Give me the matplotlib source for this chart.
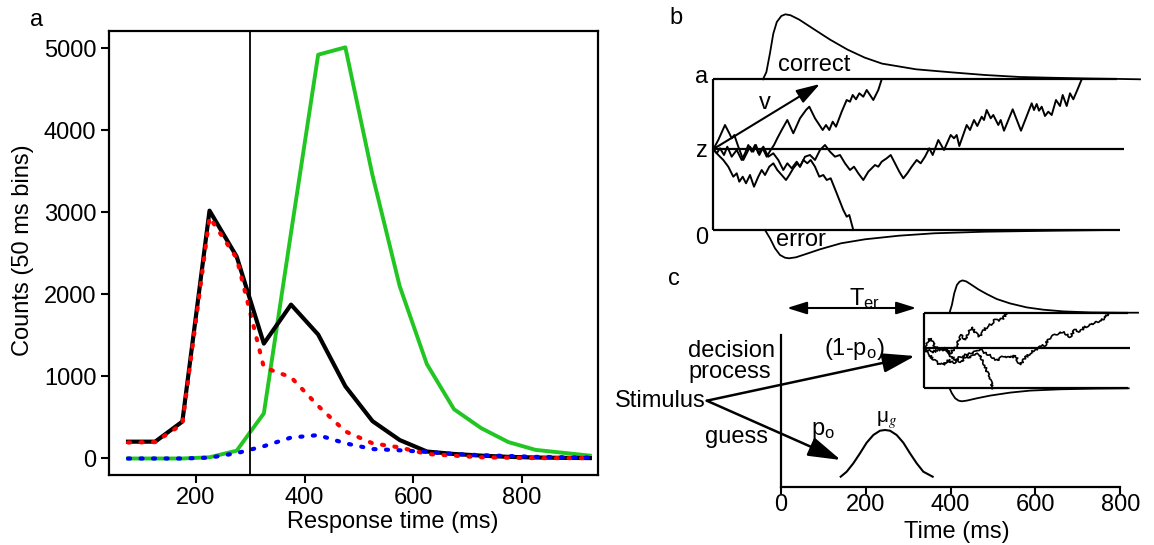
import matplotlib
matplotlib.use("Agg")
import matplotlib.pyplot as plt

plt.rcParams['font.family'] = ['Liberation Sans', 'DejaVu Sans']
plt.rcParams['font.size'] = 17
plt.rcParams['mathtext.default'] = 'regular'

W, H = 1154, 545

# ---- panel a: response time histograms (50 ms bins) ----
bin_ms = [75, 125, 175, 225, 275, 325, 375, 425, 475, 525, 575, 625, 675, 725, 775, 825, 875, 925]
total_counts = [205, 205, 450, 3020, 2460, 1400, 1875, 1510, 880, 455, 225, 85, 55, 35, 20, 12, 8, 5]
guess_counts = [195, 200, 420, 2940, 2440, 1110, 990, 640, 330, 185, 135, 55, 35, 15, 10, 5, 5, 5]
diffusion_counts = [0, 0, 0, 10, 65, 150, 255, 285, 185, 115, 100, 80, 55, 40, 30, 20, 15, 10]
control_counts = [0, 0, 0, 15, 95, 550, 2750, 4920, 5010, 3450, 2100, 1150, 600, 370, 200, 105, 70, 35]
deadline_ms = 300

# ---- panel b: diffusion model schematic ----
bound_a = 150.7
start_z = 80.7
correct_t = [50, 53.4, 56.9, 60.3, 63.8, 68.3, 72.4, 77.6, 86.2, 100, 117, 134.5, 151.7, 169,
             203, 238, 272, 307, 341, 376, 410, 427]
correct_h = [0, 7.3, 25.7, 45.7, 57.3, 63.3, 65, 64, 59.7, 50.7, 39.7, 29.7, 21.7, 15.7,
             10, 7, 4.3, 2.3, 1.5, 0.8, 0.3, 0]
error_t = [52, 57, 62, 67, 72, 76, 83, 93, 107, 128, 152, 186, 221, 272, 341, 400]
error_h = [0, 8.3, 18.3, 25, 27.7, 28.3, 27.3, 24, 19.3, 13.3, 9.3, 5.7, 3.3, 1.7, 0.7, 0]

walk1_t = [0.3, 5.3, 12, 16.3, 18.7, 21.3, 25.3, 30.3, 33.7, 37, 40.3, 43, 46.3, 49.7, 53.7, 57.7,
           61, 64.3, 68.7, 74.3, 80.3, 87, 93, 96.3, 102, 105.3, 109.7, 113, 116.3, 119.7, 123,
           128.7, 133.7, 137, 139.7, 143, 146.3, 150.3, 153.7, 157, 160.3, 165.3, 168.7]
walk1_x = [80.7, 90, 105, 96.7, 91.7, 95, 83.3, 70, 76.7, 83.3, 78.3, 85, 75, 81.7, 73.3, 80,
           85, 91.7, 100, 110, 96.7, 111.7, 120, 123.3, 111.7, 106.7, 100, 105, 100, 108.3, 103.3,
           118.3, 130, 128.3, 135, 130.7, 136.7, 133.3, 140, 135, 130, 140, 150.7]
walk2_t = [0.3, 5.3, 10.3, 15.3, 20.3, 23.7, 26.3, 29.7, 33, 37, 41, 45.3, 48.7, 52, 56.3, 60.3,
           64.3, 68.7, 73, 76.3, 80.3, 84.3, 87, 90.3, 94.3, 97.7, 102, 106.3, 110.3, 113.7,
           117.7, 123.7, 130.3, 133.7, 136.3, 140.3]
walk2_x = [80.7, 75, 70, 63.3, 53.3, 56.7, 48.3, 53.3, 46.7, 55, 43.3, 53.3, 60, 55, 63.3, 66.7,
           60, 55, 50, 55, 61.7, 66.7, 63.3, 70, 66.7, 70, 63.3, 53.3, 55, 50,
           51.7, 36.7, 20, 13.3, 15, 0]
walk3_t = [0.3, 3.7, 7, 11, 14.3, 18.7, 23.7, 28.7, 32, 35.3, 38.7, 42, 45.3, 50.3, 55.3, 60.3,
           65.3, 70.3, 74.3, 78.7, 83.7, 87, 92, 97, 102, 107, 112, 117, 122, 127, 132, 137,
           141, 145.3, 150.3, 155.3, 158.7, 162, 165.3, 168.7, 173.7, 177.7, 182, 186.3, 190.3,
           194.3, 198.7, 203.7, 207.7, 212, 216.3, 219.7, 225.3, 231, 237.7, 241, 243.7, 246.3,
           253.7, 257, 261, 264.3, 268.7, 271, 273.7, 277.7, 280.3, 285.3, 287.7, 291, 299.7,
           308, 318.7, 321, 323.7, 326, 328.7, 332, 335.3, 338.7, 343, 347, 349.7, 353.7, 357,
           360.3, 364.3, 368.7]
walk3_x = [80.7, 76.7, 81.7, 75, 83.3, 73.3, 80, 70, 76.7, 85, 78.3, 85, 76.7, 83.3, 73.3, 76.7,
           70, 60, 66.7, 61.7, 68.3, 63.3, 73.3, 75, 70, 80, 85, 78.3, 73.3, 75, 66.7, 60,
           63.3, 56.7, 50, 58.3, 61.7, 65, 63.3, 68.3, 71.7, 75, 66.7, 58.3, 51.7,
           56.7, 63.3, 70, 66.7, 73.3, 81.7, 75, 90, 80, 95, 91.7, 95, 84,
           105, 100, 110, 104, 113.3, 110, 120, 111.7, 115, 105, 110, 99.3, 120.7,
           99.3, 126.7, 120, 126, 119.3, 123.3, 114, 118.3, 115, 130, 124, 135, 124, 136.7,
           130.7, 140, 150.7]
drift_tip = (107, 146)

# ---- panel c: mixture of guesses and diffusion ----
ter_ms = (14, 319)
box_left_ms = 337
c_top, c_mid, c_bot = 174.3, 139, 98.7
c_correct_t = [397.5, 403, 408.5, 414.8, 421, 428, 436.8, 450, 465.6, 485, 508.7, 540, 579.5,
               618.7, 666, 729, 807.5, 842]
c_correct_h = [0, 7.7, 19.3, 27.7, 31, 32.3, 31.3, 27.7, 23.3, 18.7, 13.7, 9.3, 5.3, 3, 1.3, 0.3, 0, 0]
c_error_t = [397.5, 403, 410.8, 418.7, 426.5, 438.3, 461.9, 493.3, 540.5, 587.7, 658.5, 745, 820]
c_error_h = [0, 5, 10, 12.3, 13, 12.3, 10, 7.3, 4.3, 2.3, 1, 0.3, 0]
cwalk1_t = [337.2, 351.4, 363.2, 375, 386.7, 398.5, 410.3, 418.2, 426, 433.9, 441.8, 449.6, 457.5,
            465.3, 473.2, 481, 492.8, 504.6, 516.4, 524.3, 532.1]
cwalk1_x = [139, 148.7, 140.3, 137, 138.7, 133.7, 138.7, 145.3, 152, 147, 155.3, 160.3, 155.3,
            150.3, 152, 158.7, 162, 167, 167, 168.7, 174.3]
cwalk2_t = [337.2, 347.4, 359.2, 371, 382.8, 394.6, 406.4, 422.1, 433.9, 445.7, 457.5, 469.3,
            477.1, 485, 492.8, 500.7]
cwalk2_x = [139, 133.7, 127, 123.7, 122, 127, 123.7, 130.3, 132, 128.7, 133.7, 132,
            125.3, 117, 107, 98.7]
cwalk3_t = [337.2, 347.4, 359.2, 375, 390.7, 402.5, 414.2, 426, 437.8, 449.6, 461.4, 469.3, 477.1,
            492.8, 508.6, 524.3, 540, 551.8, 563.6, 575.4, 587.2, 599, 610.7, 622.5, 634.3,
            646.1, 657.9, 669.7, 681.5, 693.3, 705.1, 716.9, 728.6, 740.4, 752.2, 764, 771.9]
cwalk3_x = [139, 137, 135.3, 137.7, 137, 129.7, 127, 125.3, 132, 133.7, 135.3, 138.7, 135.3,
            132, 127, 130.3, 128.7, 132, 122, 128.7, 133.7, 137, 140.3, 142, 148.7,
            152, 155.3, 153.7, 150.3, 157, 155.3, 160.3, 162, 163.7, 167, 168.7, 174.3]
guess_t = [140.8, 154.9, 170.6, 186.3, 202, 217.8, 233.5, 245.3, 257.1, 272.8, 288.5, 304.2,
           320, 335.7, 357.7]
guess_h = [10.3, 15.3, 23.7, 33.7, 44.3, 52, 56.3, 57, 56.3, 52, 44.3, 33.7, 23.7, 15.3, 10.3]
time_ticks = [0, 200, 400, 600, 800]

fig = plt.figure(figsize=(W / 100, H / 100), dpi=100)


def fx(x):
    return x / W


def fy(y):
    return 1 - y / H


# panel a
ax = fig.add_axes([fx(109), fy(474.5), 489 / W, 444 / H])
dots = (0, (0.5, 2.5))
ax.plot(bin_ms, control_counts, color='#22c622', lw=2.8)
ax.plot(bin_ms, total_counts, color='black', lw=3)
ax.plot(bin_ms, guess_counts, color='red', lw=3, linestyle=dots, dash_capstyle='round')
ax.plot(bin_ms, diffusion_counts, color='blue', lw=3, linestyle=dots, dash_capstyle='round')
ax.axvline(deadline_ms, color='black', lw=1.3)
ax.set_xlim(40, 940)
ax.set_ylim(-195, 5215)
ax.set_xticks([200, 400, 600, 800])
ax.set_yticks([0, 1000, 2000, 3000, 4000, 5000])
ax.tick_params(length=6, width=1.5, pad=3, labelsize=17)
for s in ax.spines.values():
    s.set_linewidth(1.6)
fig.text(fx(393), fy(522), 'Response time (ms)', ha='center', va='center')
fig.text(fx(23), fy(250), 'Counts (50 ms bins)', ha='center', va='center', rotation=90)
fig.text(fx(37), fy(20), 'a', ha='center', va='center')

# panel b
axb = fig.add_axes([fx(660), fy(265), 494 / W, 265 / H])
axb.set_xlim(-53, 441)
axb.set_ylim(-35, 230)
axb.axis('off')
k = dict(color='black', lw=1.6, solid_capstyle='butt')
axb.plot([0, 0], [0, bound_a], **k)
axb.plot([0, 404], [bound_a, bound_a], **k)
axb.plot([0, 411], [start_z, start_z], **k)
axb.plot([0, 407], [0, 0], **k)
axb.plot(correct_t, [bound_a + h for h in correct_h], color='black', lw=1.3)
axb.plot(error_t, [-h for h in error_h], color='black', lw=1.3)
for t, x in [(walk1_t, walk1_x), (walk2_t, walk2_x), (walk3_t, walk3_x)]:
    axb.plot(t, x, color='black', lw=1.4)
axb.annotate('', xy=drift_tip, xytext=(0, start_z),
             arrowprops=dict(arrowstyle='-|>,head_length=0.9,head_width=0.28', mutation_scale=16,
                             lw=1.5, color='black', shrinkA=0, shrinkB=0))
axb.text(-5, bound_a + 2, 'a', ha='right', va='center')
axb.text(-5, start_z - 2, 'z', ha='right', va='center')
axb.text(-5, -8, '0', ha='right', va='center')
axb.text(65, 165, 'correct', ha='left', va='center')
axb.text(63, -10, 'error', ha='left', va='center')
axb.text(52, 127, 'v', ha='center', va='center')
axb.text(-37, 212, 'b', ha='center', va='center')

# panel c
axc = fig.add_axes([fx(600), 0, 554 / W, 285 / H])
axc.set_xlim(-426.9, 879.7)
axc.set_ylim(-58, 227)
for name in ['top', 'right']:
    axc.spines[name].set_visible(False)
axc.spines['bottom'].set_position(('data', 0))
axc.spines['bottom'].set_bounds(0, 800)
axc.spines['left'].set_position(('data', 0))
axc.spines['left'].set_bounds(0, 152)
for name in ['bottom', 'left']:
    axc.spines[name].set_linewidth(1.6)
axc.set_xticks(time_ticks)
axc.set_yticks([])
axc.tick_params(axis='x', length=5, width=1.5, pad=0, labelsize=17)
axc.patch.set_visible(False)
axc.text(415, -45, 'Time (ms)', ha='center', va='center')

axc.plot([box_left_ms, box_left_ms], [c_bot, c_top], **k)
axc.plot([box_left_ms, 818], [c_top, c_top], **k)
axc.plot([box_left_ms, 823], [c_mid, c_mid], **k)
axc.plot([box_left_ms, 818], [c_bot, c_bot], **k)
axc.plot(c_correct_t, [c_top + h for h in c_correct_h], color='black', lw=1.3)
axc.plot(c_error_t, [c_bot - h for h in c_error_h], color='black', lw=1.3)
for t, x in [(cwalk1_t, cwalk1_x), (cwalk2_t, cwalk2_x), (cwalk3_t, cwalk3_x)]:
    ln, = axc.plot(t, x, color='black', lw=1.2)
    ln.set_sketch_params(scale=1.2, length=2.5, randomness=12)
axc.plot(guess_t, guess_h, color='black', lw=1.5)

big = dict(arrowstyle='-|>,head_length=1.0,head_width=0.3', mutation_scale=20,
           lw=1.8, color='black', shrinkA=0, shrinkB=0)
axc.annotate('', xy=(316, 131), xytext=(-175, 86.3), arrowprops=big)
axc.annotate('', xy=(141, 27), xytext=(-175, 86.3), arrowprops=big)
axc.annotate('', xy=(ter_ms[1], 179), xytext=(ter_ms[0], 179),
             arrowprops=dict(arrowstyle='<|-|>,head_length=0.8,head_width=0.25', mutation_scale=15,
                             lw=1.5, color='black', shrinkA=0, shrinkB=0))
axc.text(196, 188, 'T$_{er}$', ha='center', va='center')
axc.text(-177, 86.3, 'Stimulus', ha='right', va='center')
axc.text(-219, 136, 'decision', ha='left', va='center')
axc.text(-219, 114.7, 'process', ha='left', va='center')
axc.text(-30, 49.7, 'guess', ha='right', va='center')
axc.text(174, 138, '(1-p$_o$)', ha='center', va='center')
axc.text(100, 56, 'p$_o$', ha='center', va='center')
axc.text(250, 67, r'$\mu_{\mathit{g}}$', ha='center', va='center', fontsize=15, math_fontfamily='stix')
axc.text(-252, 208, 'c', ha='center', va='center')

fig.savefig('out.png', dpi=100)
